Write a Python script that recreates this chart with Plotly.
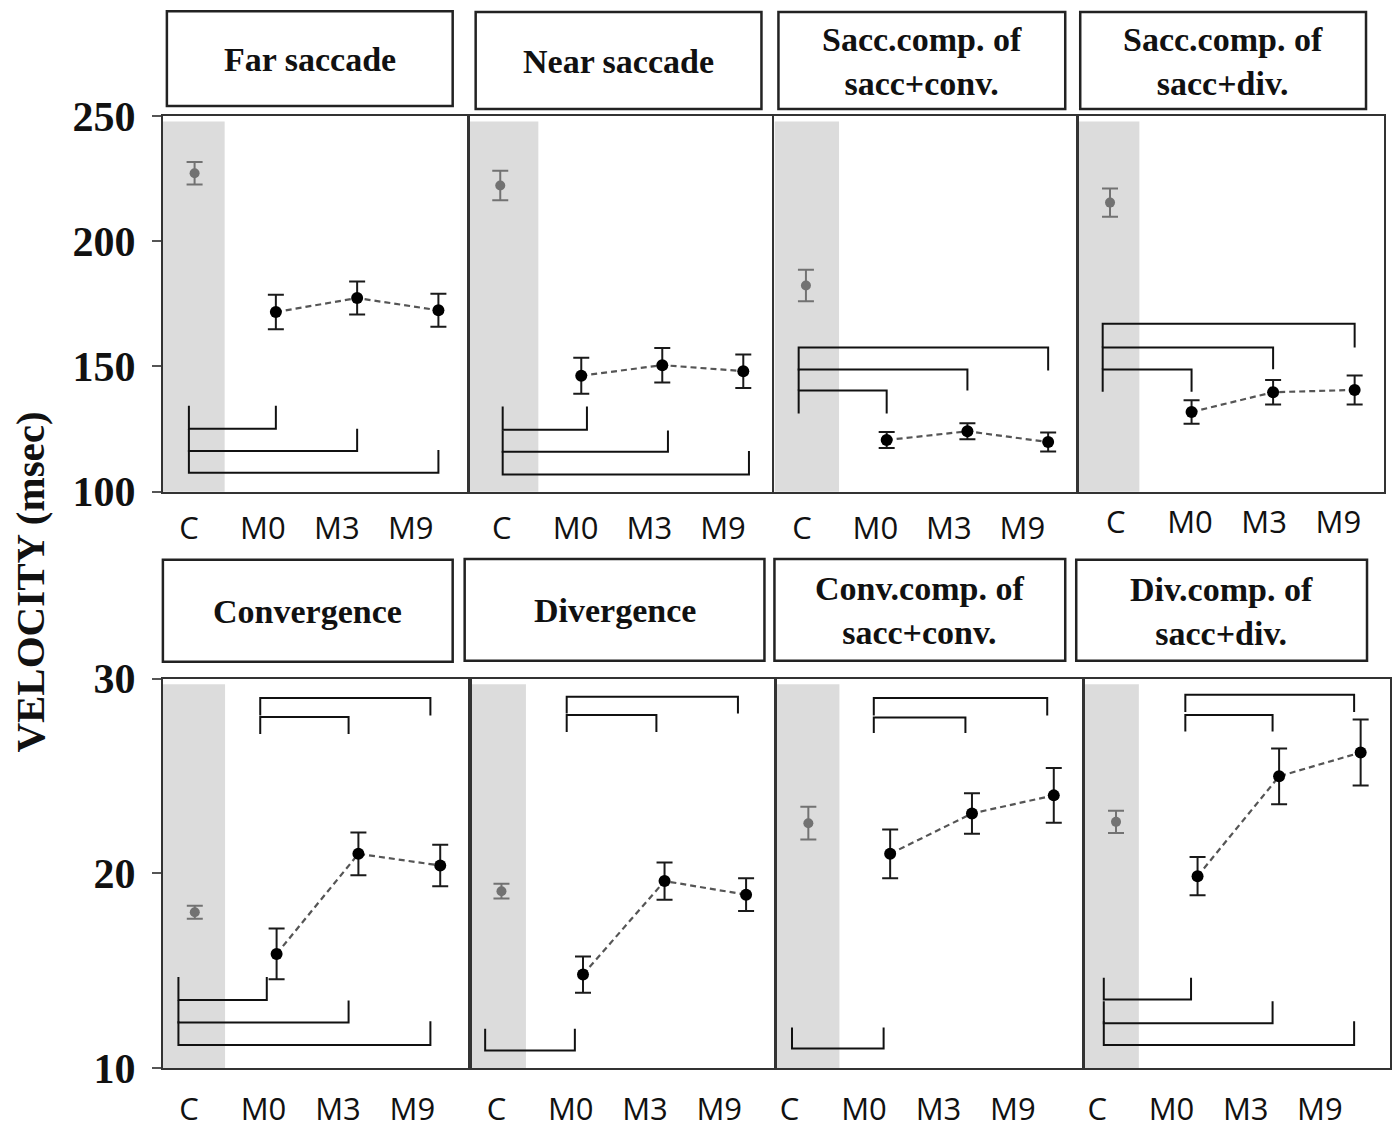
import plotly.graph_objects as go

# ---------------- data ----------------
CATEGORIES = ["C", "M0", "M3", "M9"]
TITLES = ["Far saccade", "Near saccade", "Sacc.comp. of<br>sacc+conv.", "Sacc.comp. of<br>sacc+div.",
          "Convergence", "Divergence", "Conv.comp. of<br>sacc+conv.", "Div.comp. of<br>sacc+div."]

far_sacc_mean = [227.1, 171.7, 177.3, 172.4]
far_sacc_err = [4.5, 6.9, 6.6, 6.6]
near_sacc_mean = [222.2, 146.3, 150.5, 148.1]
near_sacc_err = [5.9, 7.2, 6.9, 6.7]
sacc_conv_mean = [182.3, 120.6, 124.1, 119.8]
sacc_conv_err = [6.3, 3.2, 3.2, 3.8]
sacc_div_mean = [215.4, 131.8, 139.7, 140.6]
sacc_div_err = [5.6, 4.7, 4.9, 5.8]
conv_mean = [18.0, 15.86, 21.0, 20.4]
conv_err = [0.33, 1.3, 1.1, 1.06]
div_mean = [19.08, 14.8, 19.6, 18.9]
div_err = [0.38, 0.93, 0.96, 0.84]
conv_comp_mean = [22.57, 21.0, 23.07, 24.0]
conv_comp_err = [0.84, 1.25, 1.04, 1.4]
div_comp_mean = [22.64, 19.85, 24.98, 26.2]
div_comp_err = [0.57, 0.98, 1.43, 1.69]

# significance brackets: (from category, to category, bar level, tip level)
far_sacc_brackets = [(0, 1, 125.1, 134.3), (0, 2, 116.2, 125.1), (0, 3, 107.5, 116.6)]
near_sacc_brackets = [(0, 1, 124.7, 134.0), (0, 2, 115.9, 124.4), (0, 3, 106.8, 116.2)]
sacc_conv_brackets = [(0, 1, 140.4, 131.2), (0, 2, 148.8, 140.4), (0, 3, 157.6, 148.4)]
sacc_div_brackets = [(0, 1, 148.8, 139.9), (0, 2, 157.6, 148.9), (0, 3, 167.0, 157.6)]
conv_brackets = [(0, 1, 13.5, 14.68), (0, 2, 12.34, 13.47), (0, 3, 11.18, 12.4),
                 (1, 2, 28.03, 27.15), (1, 3, 29.0, 28.1)]
div_brackets = [(0, 1, 10.9, 12.02), (1, 2, 28.13, 27.25), (1, 3, 29.06, 28.2)]
conv_comp_brackets = [(0, 1, 11.0, 12.08), (1, 2, 28.0, 27.2), (1, 3, 29.0, 28.1)]
div_comp_brackets = [(0, 1, 13.52, 14.64), (0, 2, 12.3, 13.43), (0, 3, 11.18, 12.4),
                     (1, 2, 28.13, 27.28), (1, 3, 29.16, 28.28)]

TOP_YTICKS = [100, 150, 200, 250]
BOTTOM_YTICKS = [10, 20, 30]
Y_TITLE = "VELOCITY (msec)"

# ---------------- layout / style ----------------
OFF = 8
W, H = 1400 - 2 * OFF, 1137 - 2 * OFF
# vertical mapping of the photographed page (measured): picture_y = 22.4 + 0.96 * page_y
PIC_Y0, PIC_SY = 22.4, 0.96

panels = [
    dict(mean=far_sacc_mean, err=far_sacc_err, br=far_sacc_brackets, x=(163, 468), y=(117, 497), band=0.37, lab=-0.07, lab_y=8, bdx=(-0.07, 0.0)),
    dict(mean=near_sacc_mean, err=near_sacc_err, br=near_sacc_brackets, x=(469, 773), y=(117, 497), band=0.47, lab=0.02, lab_y=8, bdx=(0.03, 0.07)),
    dict(mean=sacc_conv_mean, err=sacc_conv_err, br=sacc_conv_brackets, x=(775, 1078), y=(117, 497), band=0.41, lab=-0.05, lab_y=8, bdx=(-0.09, 0.0)),
    dict(mean=sacc_div_mean, err=sacc_div_err, br=sacc_div_brackets, x=(1079, 1385), y=(117, 497), band=0.36, lab=0.07, lab_y=2, bdx=(-0.09, 0.0)),
    dict(mean=conv_mean, err=conv_err, br=conv_brackets, x=(163, 470), y=(686, 1080), band=0.37, lab=-0.07, lab_y=13, bdx=(-0.2, -0.12)),
    dict(mean=div_mean, err=div_err, br=div_brackets, x=(470, 776), y=(686, 1080), band=0.30, lab=-0.06, lab_y=13, bdx=(-0.2, -0.1)),
    dict(mean=conv_comp_mean, err=conv_comp_err, br=conv_comp_brackets, x=(777, 1084), y=(686, 1080), band=0.38, lab=-0.23, lab_y=13, bdx=(-0.2, -0.08)),
    dict(mean=div_comp_mean, err=div_comp_err, br=div_comp_brackets, x=(1085, 1391), y=(686, 1080), band=0.28, lab=-0.23, lab_y=13, bdx=(-0.15, -0.08)),
]
boxes = [(167, 11, 453, 107), (476, 12, 762, 110), (779, 12, 1066, 110), (1081, 12, 1367, 110),
         (163, 566, 453, 669), (465, 565, 765, 668), (775, 565, 1066, 668), (1077, 566, 1368, 668)]
XRANGE = [-0.39, 3.36]
LABEL_STEP = 0.91


def fx(px):
    return (px - OFF) / W


def fy(py_ref):
    py = (py_ref - PIC_Y0) / PIC_SY
    return 1 - (py - OFF) / H


fig = go.Figure()
shapes = []
annotations = []
layout_axes = {}

for k, p in enumerate(panels):
    n = k + 1
    xa = "x" if n == 1 else f"x{n}"
    ya = "y" if n == 1 else f"y{n}"
    top = k < 4
    xpos = list(range(len(CATEGORIES)))

    # gray control band
    shapes.append(dict(type="rect", xref=xa, yref=f"{ya} domain", x0=XRANGE[0], x1=p["band"],
                       y0=0, y1=0.985, fillcolor="#dcdcdc", line=dict(width=0), layer="below"))

    # significance brackets
    for (i, j, ybar, ytip) in p["br"]:
        xl = i + p["bdx"][0]
        xr = j + p["bdx"][1]
        fig.add_trace(go.Scatter(x=[xl, xl, xr, xr], y=[ytip, ybar, ybar, ytip], mode="lines",
                                 line=dict(color="#111111", width=2), xaxis=xa, yaxis=ya,
                                 showlegend=False, hoverinfo="skip"))

    # control group
    fig.add_trace(go.Scatter(x=xpos[:1], y=p["mean"][:1], mode="markers",
                             marker=dict(color="#727272", size=10),
                             error_y=dict(type="data", array=p["err"][:1], color="#727272", thickness=2, width=8),
                             xaxis=xa, yaxis=ya, showlegend=False))
    # patient sessions
    fig.add_trace(go.Scatter(x=xpos[1:], y=p["mean"][1:], mode="lines+markers",
                             line=dict(color="#555555", width=2.2, dash="6px,4px"),
                             marker=dict(color="#000000", size=12),
                             error_y=dict(type="data", array=p["err"][1:], color="#1a1a1a", thickness=2, width=8),
                             xaxis=xa, yaxis=ya, showlegend=False))

    first_col = k in (0, 4)
    key_x = "xaxis" if n == 1 else f"xaxis{n}"
    key_y = "yaxis" if n == 1 else f"yaxis{n}"
    layout_axes[key_x] = dict(
        domain=[fx(p["x"][0]), fx(p["x"][1])], anchor=ya, range=XRANGE,
        tickvals=[p["lab"] + LABEL_STEP * i for i in xpos], ticktext=CATEGORIES,
        ticks="", showgrid=False, zeroline=False, showline=True, mirror=True,
        linecolor="#333333", linewidth=2,
        tickfont=dict(family="Open Sans", size=31, color="#111111"),
        ticklabelstandoff=p["lab_y"], fixedrange=True)
    layout_axes[key_y] = dict(
        domain=[fy(p["y"][1]), fy(p["y"][0])], anchor=xa,
        range=[100, 250] if top else [10, 30],
        tickvals=(TOP_YTICKS if top else BOTTOM_YTICKS),
        showticklabels=first_col, ticks="outside" if first_col else "",
        ticklen=9, tickwidth=2, tickcolor="#555555",
        showgrid=False, zeroline=False, showline=True, mirror=True,
        linecolor="#333333", linewidth=2,
        tickfont=dict(family="Liberation Serif", size=42, color="#111111", weight="bold"),
        ticklabelstandoff=8, fixedrange=True)

# panel title boxes
for (x0, y0, x1, y1), t in zip(boxes, TITLES):
    shapes.append(dict(type="rect", xref="paper", yref="paper", x0=fx(x0), x1=fx(x1), y0=fy(y1), y1=fy(y0),
                       line=dict(color="#222222", width=2.5), fillcolor="white"))
    annotations.append(dict(text=f"<b>{t}</b>", xref="paper", yref="paper",
                            x=fx((x0 + x1) / 2), y=fy((y0 + y1) / 2 + 1), xanchor="center", yanchor="middle",
                            showarrow=False, font=dict(family="Liberation Serif", size=34, color="#111111")))

annotations.append(dict(text=f"<b>{Y_TITLE}</b>", xref="paper", yref="paper", x=fx(30), y=fy(588),
                        xanchor="center", yanchor="middle", textangle=-90, showarrow=False,
                        font=dict(family="Liberation Serif", size=41, color="#111111")))

fig.update_layout(width=W, height=H, margin=dict(l=0, r=0, t=0, b=0),
                  paper_bgcolor="white", plot_bgcolor="white",
                  shapes=shapes, annotations=annotations, showlegend=False, **layout_axes)

fig.write_html("out.html")
